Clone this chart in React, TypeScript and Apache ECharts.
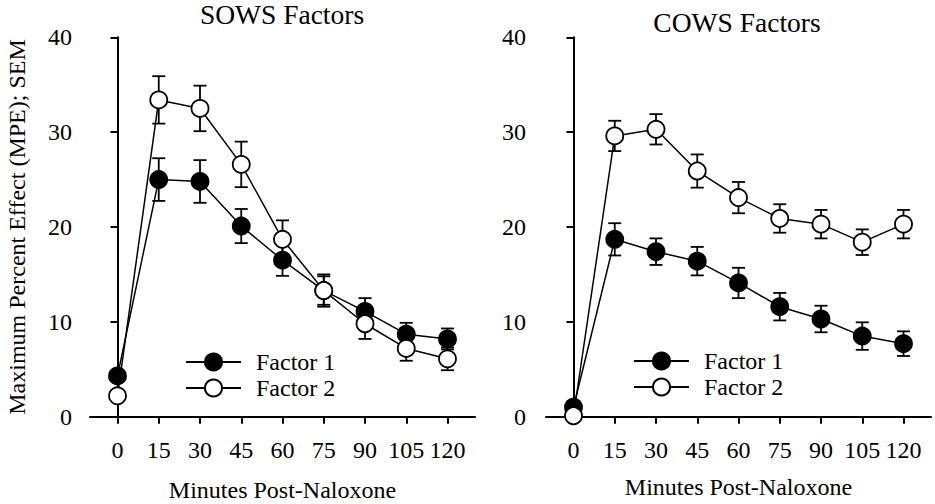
import React, { useEffect, useRef } from "react";
import * as echarts from "echarts";

const minutes = [0, 15, 30, 45, 60, 75, 90, 105, 120];
const xTicks = [0, 15, 30, 45, 60, 75, 90, 105, 120];
const sowsFactor1 = [4.3, 25.0, 24.8, 20.1, 16.5, 13.3, 11.1, 8.7, 8.2];
const sowsFactor1Sem = [0, 2.25, 2.25, 1.8, 1.65, 1.7, 1.4, 1.2, 1.1];
const sowsFactor2 = [2.2, 33.4, 32.5, 26.6, 18.7, 13.3, 9.8, 7.2, 6.1];
const sowsFactor2Sem = [0, 2.5, 2.4, 2.4, 2.0, 1.5, 1.6, 1.3, 1.2];
const cowsFactor1 = [1.0, 18.7, 17.4, 16.4, 14.1, 11.6, 10.3, 8.5, 7.7];
const cowsFactor1Sem = [0, 1.7, 1.4, 1.5, 1.6, 1.45, 1.4, 1.45, 1.3];
const cowsFactor2 = [0.1, 29.6, 30.3, 25.9, 23.1, 20.9, 20.3, 18.4, 20.3];
const cowsFactor2Sem = [0, 1.6, 1.6, 1.75, 1.65, 1.5, 1.5, 1.35, 1.5];

const FONT = "Liberation Serif";
const SYMBOL = 17;

function errorSeries(axis: number, values: number[], sems: number[]) {
  const data = minutes
    .map((m, i) => [m, values[i] - sems[i], values[i] + sems[i], sems[i]])
    .filter((d) => d[3] > 0);
  return {
    type: "custom",
    name: "err",
    xAxisIndex: axis,
    yAxisIndex: axis,
    z: 1,
    silent: true,
    encode: { x: 0, y: [1, 2] },
    renderItem: (params: any, api: any) => {
      const x = api.value(0);
      const pLo = api.coord([x, api.value(1)]);
      const pHi = api.coord([x, api.value(2)]);
      const hw = 6.5;
      const style = { stroke: "#000", lineWidth: 1.8 };
      return {
        type: "group",
        children: [
          { type: "line", shape: { x1: pLo[0], y1: pLo[1], x2: pHi[0], y2: pHi[1] }, style },
          { type: "line", shape: { x1: pHi[0] - hw, y1: pHi[1], x2: pHi[0] + hw, y2: pHi[1] }, style },
          { type: "line", shape: { x1: pLo[0] - hw, y1: pLo[1], x2: pLo[0] + hw, y2: pLo[1] }, style },
        ],
      };
    },
    data,
  };
}

function lineSeries(axis: number, name: string, values: number[], filled: boolean) {
  return {
    type: "line",
    name,
    xAxisIndex: axis,
    yAxisIndex: axis,
    z: filled ? 3 : 4,
    data: minutes.map((m, i) => [m, values[i]]),
    symbol: "circle",
    symbolSize: SYMBOL,
    lineStyle: { color: "#000", width: 1.5 },
    itemStyle: { color: filled ? "#000" : "#fff", borderColor: "#000", borderWidth: 1.8 },
  };
}

export default function App() {
  const ref = useRef<HTMLDivElement>(null);
  useEffect(() => {
    document.body.style.margin = "0";
    const chart = echarts.init(ref.current!, null, { renderer: "svg" });
    const axisLineStyle = { color: "#000", width: 2 };
    const labelStyle = { color: "#000", fontFamily: FONT, fontSize: 24 };
    const legendBase = {
      data: ["Factor 1", "Factor 2"],
      orient: "vertical",
      itemWidth: 55,
      itemHeight: SYMBOL / 0.8,
      itemGap: 2,
      padding: 0,
      selectedMode: false,
      textStyle: { ...labelStyle, padding: [0, 0, 0, 10] },
    };
    chart.setOption({
      animation: false,
      backgroundColor: "#fff",
      title: [
        { text: "SOWS Factors", left: 282, top: 0, padding: 0, textAlign: "center", textStyle: { ...labelStyle, fontSize: 27.5, fontWeight: "normal" } },
        { text: "COWS Factors", left: 737, top: 8, padding: 0, textAlign: "center", textStyle: { ...labelStyle, fontSize: 27.5, fontWeight: "normal" } },
      ],
      legend: [
        { ...legendBase, left: 185, top: 350 },
        { ...legendBase, left: 633, top: 349 },
      ],
      grid: [
        { left: 90, top: 37.3, width: 385, height: 379.4, outerBoundsMode: "none", containLabel: false },
        { left: 546, top: 37.3, width: 385, height: 379.4, outerBoundsMode: "none", containLabel: false },
      ],
      xAxis: [0, 1].map((i) => ({
        type: "value",
        gridIndex: i,
        min: -10,
        max: 130,
        axisLine: { show: true, onZero: false, lineStyle: axisLineStyle },
        axisTick: { show: true, customValues: xTicks, length: 7, lineStyle: axisLineStyle },
        axisLabel: { customValues: xTicks, ...labelStyle, margin: 21 },
        splitLine: { show: false },
        name: "Minutes Post-Naloxone",
        nameLocation: "middle",
        nameGap: i === 0 ? 63 : 60,
        nameTextStyle: { ...labelStyle, lineHeight: 20 },
      })),
      yAxis: [0, 1].map((i) => ({
        type: "value",
        gridIndex: i,
        min: 0,
        max: 40,
        interval: 10,
        axisLine: { show: true, lineStyle: axisLineStyle },
        axisTick: { show: true, length: 7, lineStyle: axisLineStyle },
        axisLabel: { ...labelStyle, margin: i === 0 ? 18 : 20 },
        splitLine: { show: false },
        name: i === 0 ? "Maximum Percent Effect (MPE); SEM" : "",
        nameLocation: "middle",
        nameGap: 61,
        nameTextStyle: labelStyle,
      })),
      series: [
        errorSeries(0, sowsFactor1, sowsFactor1Sem),
        errorSeries(0, sowsFactor2, sowsFactor2Sem),
        errorSeries(1, cowsFactor1, cowsFactor1Sem),
        errorSeries(1, cowsFactor2, cowsFactor2Sem),
        lineSeries(0, "Factor 1", sowsFactor1, true),
        lineSeries(0, "Factor 2", sowsFactor2, false),
        lineSeries(1, "Factor 1", cowsFactor1, true),
        lineSeries(1, "Factor 2", cowsFactor2, false),
      ],
    });
    return () => chart.dispose();
  }, []);
  return <div ref={ref} style={{ width: 935, height: 504 }} />;
}
